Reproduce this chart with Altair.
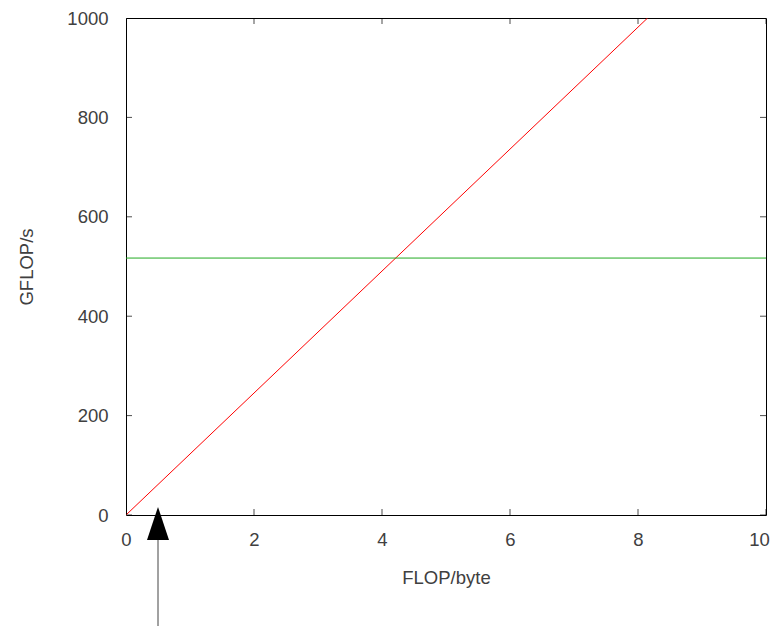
import altair as alt
import pandas as pd

# Data
mem_x = [0.0, 8.15]          # memory-bound roof (FLOP/byte)
mem_y = [0.0, 1000.0]        # GFLOP/s
peak_x = [0.0, 10.0]         # compute roof
peak_y = [517.0, 517.0]
xticks = [0, 2, 4, 6, 8, 10]
yticks = [0, 200, 400, 600, 800, 1000]
arrow_x = [0.5]
arrow_head_center = [-17.0]
arrow_tail = [-245.0]

FONT = "Liberation Sans"
TXT = "#404040"
FS = 18.5

xs = alt.Scale(domain=[0, 10], nice=False, zero=False)
ys = alt.Scale(domain=[0, 1000], nice=False, zero=False)

mem = pd.DataFrame({"x": mem_x, "y": mem_y})
peak = pd.DataFrame({"x": peak_x, "y": peak_y})

base_axis_x = alt.Axis(values=xticks, format="d", grid=False, ticks=False, tickSize=0, domain=False,
                       labelPadding=15, labelFlush=False, labelBound=False,
                       labelOffset=alt.ExprRef("datum.value == 10 ? -7 : 0"),
                       title="FLOP/byte", titlePadding=20,
                       labelFontSize=FS, titleFontSize=FS, labelFont=FONT, titleFont=FONT,
                       labelColor=TXT, titleColor=TXT, titleFontWeight="normal")
base_axis_y = alt.Axis(values=yticks, format="d", grid=False, ticks=False, tickSize=0, domain=False,
                       labelPadding=18, labelFlush=False, title="GFLOP/s", titlePadding=30,
                       labelFontSize=FS, titleFontSize=FS, labelFont=FONT, titleFont=FONT,
                       labelColor=TXT, titleColor=TXT, titleFontWeight="normal")

red = alt.Chart(mem).mark_line(color="#ff0000", strokeWidth=1, clip=True).encode(
    x=alt.X("x:Q", scale=xs, axis=base_axis_x),
    y=alt.Y("y:Q", scale=ys, axis=base_axis_y),
)
green = alt.Chart(peak).mark_line(color="#22aa22", strokeWidth=1, clip=True).encode(
    x=alt.X("x:Q", scale=xs), y=alt.Y("y:Q", scale=ys)
)

xt = pd.DataFrame({"x": xticks * 2, "y": [0] * len(xticks) + [1000] * len(xticks)})
yt = pd.DataFrame({"y": yticks * 2, "x": [0] * len(yticks) + [10] * len(yticks)})
xtick_marks = alt.Chart(xt).mark_tick(orient="vertical", size=12, thickness=1,
                                      color="black", clip=True).encode(
    x=alt.X("x:Q", scale=xs), y=alt.Y("y:Q", scale=ys))
ytick_marks = alt.Chart(yt).mark_tick(orient="horizontal", size=12, thickness=1,
                                      color="black", clip=True).encode(
    x=alt.X("x:Q", scale=xs), y=alt.Y("y:Q", scale=ys))

arr = pd.DataFrame({"x": arrow_x, "c": arrow_head_center, "tail": arrow_tail})
shaft = alt.Chart(arr).mark_rule(color="#444444", strokeWidth=1, clip=False).encode(
    x=alt.X("x:Q", scale=xs), y=alt.Y("c:Q", scale=ys), y2="tail:Q")
head = alt.Chart(arr).mark_point(shape="M0,-1L0.667,1L-0.667,1Z", size=1089, filled=True,
                                 color="black", opacity=1, clip=False).encode(
    x=alt.X("x:Q", scale=xs), y=alt.Y("c:Q", scale=ys))

chart = alt.layer(red, green, xtick_marks, ytick_marks, shaft, head).properties(
    width=640, height=497,
    autosize=alt.AutoSizeParams(type="none"),
    padding={"left": 118, "top": 10, "right": 4, "bottom": 111},
    background="white",
).configure_view(stroke="black", strokeWidth=1)

chart.save("out.html", embed_options={"renderer": "svg", "actions": False})
